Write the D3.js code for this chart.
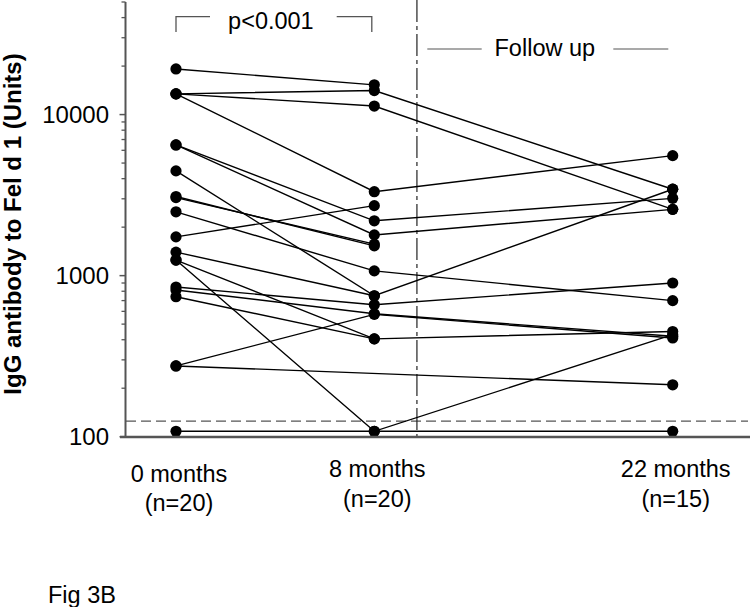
<!DOCTYPE html>
<html>
<head>
<meta charset="utf-8">
<script src="https://cdn.jsdelivr.net/npm/d3@7"></script>
<style>
  html, body { margin: 0; padding: 0; background: #fff; }
  svg { display: block; font-family: "Liberation Sans", Arial, sans-serif; }
</style>
</head>
<body>
<svg id="chart" width="750" height="607"></svg>
<script>
// ---- data ----
const months = [0, 8, 22];
const timeLabels = ["0 months", "8 months", "22 months"];
const nLabels = ["(n=20)", "(n=20)", "(n=15)"];
// one entry per subject (null = not measured)
const month0  = [19200, 13450, 13450, 13450, 6480, 6480, 4470, 1400, 3100, 3050, 2490, 1740, 850, 815, 275, 1250, 740, 1250, 108, 275];
const month8  = [15300, 14100, 11300, 3320, 2190, 1790, 750, 750, 1530, 1570, 1070, 2720, 660, 580, 575, 405, 405, 108, 108, null];
const month22 = [null, 3440, 2580, 5560, 3020, 2580, 3440, null, null, null, 700, null, 900, 420, 410, 450, null, 430, 108, 210];
const cutoff = 125;          // detection limit (dashed line)
const followUpMonth = 10;    // start of follow up (dash-dot line)
const followUpTextMonth = 16;
const yMajorTicks = [100, 1000, 10000];
const yMinorTicks = [200,300,400,500,600,700,800,900,2000,3000,4000,5000,6000,7000,8000,9000,20000,30000,40000,50000];
const yDomain = [100, 50000];

// ---- scales ----
const svg = d3.select("#chart");
const x = d3.scaleLinear().domain(months).range([176, 374.3, 672.7]);
const y = d3.scaleLog().domain(yDomain).range([436.7, 2]);
const axisColor = "#555";
const fontSize = 23.5;

// ---- reference lines ----
svg.append("line")
  .attr("x1", 126).attr("x2", 748)
  .attr("y1", y(cutoff)).attr("y2", y(cutoff))
  .attr("stroke", axisColor).attr("stroke-width", 1.2)
  .attr("stroke-dasharray", "10,5");

svg.append("line")
  .attr("x1", x(followUpMonth)).attr("x2", x(followUpMonth))
  .attr("y1", 0).attr("y2", 437)
  .attr("stroke", "#222").attr("stroke-width", 1.2)
  .attr("stroke-dasharray", "22,4,4,4");

// ---- subject lines ----
const subjects = month0.map((v, i) => [
  {m: months[0], v: v},
  {m: months[1], v: month8[i]},
  {m: months[2], v: month22[i]}
].filter(d => d.v != null));

const line = d3.line().x(d => x(d.m)).y(d => y(d.v));
svg.append("g").selectAll("path").data(subjects).join("path")
  .attr("d", line)
  .attr("fill", "none")
  .attr("stroke", "#000")
  .attr("stroke-width", 1.4);

// ---- points ----
const pts = [];
[month0, month8, month22].forEach((arr, k) => arr.forEach(v => { if (v != null) pts.push({m: months[k], v}); }));
svg.append("g").selectAll("circle").data(pts).join("circle")
  .attr("cx", d => x(d.m)).attr("cy", d => y(d.v))
  .attr("r", 5.6).attr("fill", "#000");

// ---- axes ----
svg.append("line")
  .attr("x1", 125.5).attr("x2", 125.5)
  .attr("y1", y(yDomain[1])).attr("y2", y(yDomain[0]))
  .attr("stroke", axisColor).attr("stroke-width", 2);
svg.append("line")
  .attr("x1", 120).attr("x2", 750)
  .attr("y1", 437).attr("y2", 437)
  .attr("stroke", axisColor).attr("stroke-width", 2.5);

const gy = svg.append("g");
gy.selectAll("line.maj").data(yMajorTicks).join("line")
  .attr("x1", 119.5).attr("x2", 125.5)
  .attr("y1", d => y(d)).attr("y2", d => y(d))
  .attr("stroke", axisColor).attr("stroke-width", 1.5);
gy.selectAll("line.min").data(yMinorTicks).join("line")
  .attr("x1", 121.5).attr("x2", 125.5)
  .attr("y1", d => y(d)).attr("y2", d => y(d))
  .attr("stroke", axisColor).attr("stroke-width", 1.3);
gy.selectAll("text").data(yMajorTicks).join("text")
  .attr("x", 109).attr("y", d => y(d))
  .attr("dy", "0.35em")
  .attr("text-anchor", "end")
  .attr("font-size", 24)
  .attr("fill", "#000")
  .text(d => d3.format("d")(d));

// y title
svg.append("text")
  .attr("transform", "translate(21,224) rotate(-90)")
  .attr("text-anchor", "middle")
  .attr("font-size", 24)
  .attr("font-weight", "bold")
  .attr("fill", "#000")
  .text("IgG antibody to Fel d 1 (Units)");

// x category labels
const gx = svg.append("g");
gx.selectAll("text.t").data(months).join("text")
  .attr("class", "t")
  .attr("x", (d) => x(d) + 3)
  .attr("y", (d, i) => i === 0 ? 482 : 477)
  .attr("text-anchor", "middle")
  .attr("font-size", fontSize)
  .text((d, i) => timeLabels[i]);
gx.selectAll("text.n").data(months).join("text")
  .attr("class", "n")
  .attr("x", (d) => x(d) + 3)
  .attr("y", (d, i) => i === 0 ? 511 : 507)
  .attr("text-anchor", "middle")
  .attr("font-size", fontSize)
  .text((d, i) => nLabels[i]);

// ---- annotations ----
const bx0 = x(months[0]), bx1 = x(months[1]) - 2.5;
svg.append("path")
  .attr("d", `M${bx0},32 V16.7 H210 M336.7,16.7 H${bx1} V32`)
  .attr("fill", "none").attr("stroke", axisColor).attr("stroke-width", 1.3);
svg.append("text")
  .attr("x", (bx0 + bx1) / 2 - 3).attr("y", 29)
  .attr("text-anchor", "middle")
  .attr("font-size", fontSize)
  .text("p<0.001");

const fx = x(followUpTextMonth);
svg.append("text")
  .attr("x", fx).attr("y", 55.5)
  .attr("text-anchor", "middle")
  .attr("font-size", fontSize)
  .text("Follow up");
svg.append("line").attr("x1", 427.3).attr("x2", 481.7).attr("y1", 49).attr("y2", 49)
  .attr("stroke", axisColor).attr("stroke-width", 1.2);
svg.append("line").attr("x1", 613.3).attr("x2", 668.3).attr("y1", 49).attr("y2", 49)
  .attr("stroke", axisColor).attr("stroke-width", 1.2);

svg.append("text")
  .attr("x", 48).attr("y", 603)
  .attr("font-size", fontSize)
  .text("Fig 3B");
</script>
</body>
</html>
